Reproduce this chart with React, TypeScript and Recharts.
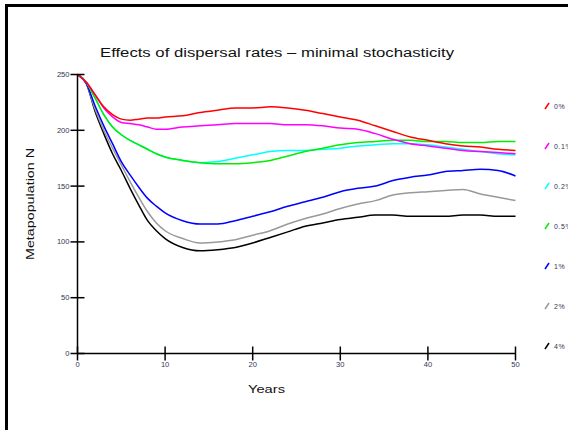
import React from 'react';
import { LineChart, Line, XAxis, YAxis } from 'recharts';

const years = [0, 1, 2, 3, 4, 5, 6, 7, 8, 9, 10, 12, 14, 16, 18, 20, 22, 24, 26, 28, 30, 32, 34, 36, 38, 40, 42, 44, 46, 48, 50];

const rate0 = [250, 243, 232, 221, 214, 210, 209, 210, 211, 211, 212, 213, 216, 218, 220, 220, 221, 220, 218, 215, 212, 209, 204, 199, 194, 191, 188, 186, 185, 183, 182];
const rate01 = [250, 243, 232, 220, 212, 207, 206, 205, 203, 201, 201, 203, 204, 205, 206, 206, 206, 205, 205, 204, 202, 201, 197, 192, 188, 186, 184, 182, 181, 180, 179];
const rate02 = [250, 243, 229, 214, 203, 196, 191, 187, 183, 179, 176, 173, 171, 172, 175, 178, 181, 182, 182, 183, 184, 186, 187, 188, 188, 187, 185, 183, 181, 179, 178];
const rate05 = [250, 243, 229, 214, 203, 196, 191, 187, 183, 179, 176, 173, 171, 170, 170, 171, 173, 177, 181, 184, 187, 189, 190, 191, 191, 190, 190, 189, 189, 190, 190];
const rate1 = [250, 242, 222, 204, 188, 172, 160, 149, 139, 132, 126, 119, 116, 116, 119, 123, 127, 132, 136, 140, 145, 148, 150, 155, 158, 160, 163, 164, 165, 164, 159];
const rate2 = [250, 242, 219, 200, 184, 169, 154, 140, 127, 117, 110, 103, 99, 100, 102, 106, 110, 116, 121, 125, 130, 134, 137, 142, 144, 145, 146, 147, 143, 140, 137];
const rate4 = [250, 242, 217, 197, 179, 164, 148, 133, 119, 110, 103, 95, 92, 93, 95, 99, 104, 109, 114, 117, 120, 122, 124, 124, 123, 123, 123, 124, 124, 123, 123];

const seriesKeys = ['r0', 'r01', 'r02', 'r05', 'r1', 'r2', 'r4'];
const seriesNames = ['0%', '0.1%', '0.2%', '0.5%', '1%', '2%', '4%'];
const seriesColors = ['#ff0000', '#ff00ff', '#00ffff', '#00ee00', '#0000ff', '#999999', '#000000'];
const seriesValues = [rate0, rate01, rate02, rate05, rate1, rate2, rate4];
const drawOrder = [6, 5, 4, 2, 3, 1, 0];

const xTicks = [0, 10, 20, 30, 40, 50];
const yTicks = [0, 50, 100, 150, 200, 250];

const data = years.map((yr, i) => {
  const row: any = { year: yr };
  seriesKeys.forEach((k, j) => {
    row[k] = seriesValues[j][i];
  });
  return row;
});

const FONT = '"Liberation Sans", Arial, sans-serif';
const TICK_COLOR = '#333355';

const YTick = (props: any) => {
  const { x, y, payload } = props;
  const s = String(payload.value);
  return (
    <g>
      <line x1={x} x2={x + 14} y1={y} y2={y} stroke="#000" strokeWidth={1.5} />
      <text x={x - 1} y={y + 2.5} textAnchor="end" fontSize={7} fontFamily={FONT} fill={TICK_COLOR}
        textLength={s.length * 4.2} lengthAdjust="spacingAndGlyphs">
        {s}
      </text>
    </g>
  );
};

const XTick = (props: any) => {
  const { x, y, payload } = props;
  const s = String(payload.value);
  return (
    <g>
      <line x1={x} x2={x} y1={y - 14} y2={y} stroke="#000" strokeWidth={1.5} />
      <text x={x} y={y + 6.5} textAnchor="middle" fontSize={7} fontFamily={FONT} fill={TICK_COLOR}
        textLength={s.length * 4.2} lengthAdjust="spacingAndGlyphs">
        {s}
      </text>
    </g>
  );
};

export default function App() {
  return (
    <div style={{ position: 'absolute', left: 0, top: 0, width: 568, height: 430, overflow: 'hidden', background: '#fff' }}>
      <div style={{ position: 'absolute', left: 5, top: 4, width: 700, height: 600, border: '3px solid #000', boxSizing: 'border-box' }} />
      <div style={{ position: 'absolute', left: 0, top: 0 }}>
        <LineChart width={568} height={430} data={data} margin={{ top: 74.5, right: 52.5, bottom: 46.5, left: 17.5 }}>
          <XAxis
            dataKey="year"
            type="number"
            domain={[0, 50]}
            ticks={xTicks}
            height={30}
            tickSize={7}
            tickMargin={0}
            tickLine={false}
            axisLine={{ stroke: '#000', strokeWidth: 1.5 }}
            tick={<XTick />}
            interval={0}
          />
          <YAxis
            type="number"
            domain={[0, 250]}
            ticks={yTicks}
            width={60}
            tickSize={7}
            tickMargin={0}
            tickLine={false}
            axisLine={{ stroke: '#000', strokeWidth: 1.5 }}
            tick={<YTick />}
            interval={0}
          />
          {drawOrder.map((j) => (
            <Line
              key={seriesKeys[j]}
              dataKey={seriesKeys[j]}
              name={seriesNames[j]}
              stroke={seriesColors[j]}
              strokeWidth={1.5}
              dot={false}
              type="monotone"
              isAnimationActive={false}
            />
          ))}
        </LineChart>
      </div>
      <svg width={568} height={430} style={{ position: 'absolute', left: 0, top: 0, pointerEvents: 'none' }}>
        <text x={277} y={57} textAnchor="middle" fontSize={12.5} fontFamily={FONT} fill="#111"
          textLength={354} lengthAdjust="spacingAndGlyphs">
          Effects of dispersal rates – minimal stochasticity
        </text>
        <text x={266.5} y={393} textAnchor="middle" fontSize={11} fontFamily={FONT} fill="#111"
          textLength={37} lengthAdjust="spacingAndGlyphs">
          Years
        </text>
        <text
          x={33.5}
          y={204}
          textAnchor="middle"
          fontSize={10}
          fontFamily={FONT}
          fill="#111"
          textLength={112}
          lengthAdjust="spacingAndGlyphs"
          transform="rotate(-90 33.5 204)"
        >
          Metapopulation N
        </text>
        {seriesNames.map((name, j) => (
          <g key={name}>
            <line x1={545} y1={106 + j * 40 + 3} x2={549} y2={106 + j * 40 - 3} stroke={seriesColors[j]} strokeWidth={1.5} />
            <text x={554} y={106 + j * 40 + 2.5} fontSize={7} fontFamily={FONT} fill={TICK_COLOR} letterSpacing={0.6}>
              {name}
            </text>
          </g>
        ))}
      </svg>
    </div>
  );
}
